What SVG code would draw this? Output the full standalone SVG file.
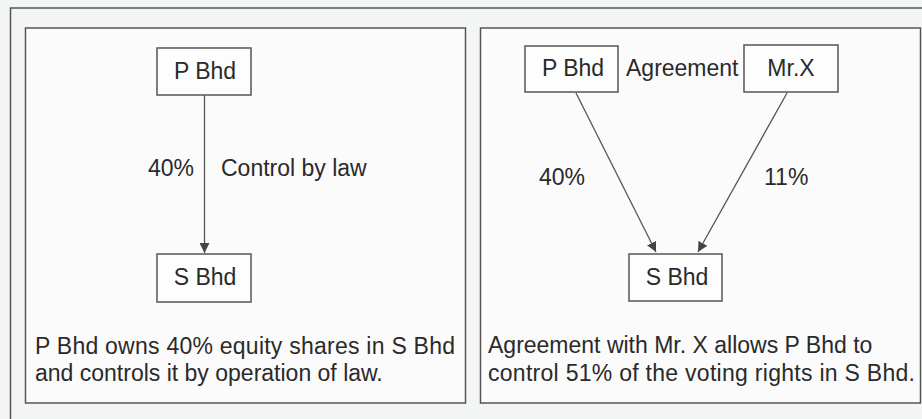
<svg xmlns="http://www.w3.org/2000/svg" width="922" height="419" viewBox="0 0 922 419">
<style>
.bg{fill:#f3f4f4}
.frame{fill:none;stroke:#555;stroke-width:1.5}
.panel{fill:#fbfbfb;stroke:#555;stroke-width:1.5}
.node{fill:#fdfdfd;stroke:#555;stroke-width:1.5}
.t{font-family:"Liberation Sans",Arial,sans-serif;font-size:23px;fill:#2a2a2a}
.c{text-anchor:middle}
.edge{stroke:#555;stroke-width:1.3;fill:none;marker-end:url(#ah)}
</style>
<defs>
<marker id="ah" viewBox="0 0 10 10" refX="10" refY="5" markerWidth="10" markerHeight="10" markerUnits="userSpaceOnUse" orient="auto">
<path d="M0,0 L10,5 L0,10 Z" fill="#444"/>
</marker>
</defs>
<rect class="bg" x="0" y="0" width="922" height="419"/>
<path class="frame" d="M10.5,419 V8 H922"/>
<rect class="panel" x="25.5" y="28" width="440" height="375"/>
<rect class="panel" x="480.5" y="28" width="440" height="375"/>

<g id="left-p">
<rect class="node" x="157" y="48" width="94" height="47"/>
<text class="t c" x="205" y="79">P Bhd</text>
</g>
<g id="left-s">
<rect class="node" x="157" y="254" width="94" height="48"/>
<text class="t c" x="205" y="285">S Bhd</text>
</g>
<g id="right-p">
<rect class="node" x="525" y="46" width="93" height="46"/>
<text class="t c" x="573" y="76">P Bhd</text>
</g>
<g id="right-x">
<rect class="node" x="744" y="45" width="94" height="47"/>
<text class="t c" x="791" y="76">Mr.X</text>
</g>
<g id="right-s">
<rect class="node" x="629" y="254" width="93" height="47"/>
<text class="t c" x="677" y="285">S Bhd</text>
</g>

<g id="connectors">
<line class="edge" x1="204.5" y1="95" x2="204.5" y2="253"/>
<line class="edge" x1="576" y1="93" x2="656" y2="252"/>
<line class="edge" x1="787" y1="93" x2="698" y2="252"/>
</g>

<g id="labels">
<text class="t" x="148" y="176">40%</text>
<text class="t" x="221" y="176">Control by law</text>
<text class="t" x="626" y="76">Agreement</text>
<text class="t" x="539" y="185">40%</text>
<text class="t" x="764" y="185">11%</text>
<text class="t" x="35" y="354" textLength="420">P Bhd owns 40% equity shares in S Bhd</text>
<text class="t" x="35" y="381">and controls it by operation of law.</text>
<text class="t" x="488" y="353">Agreement with Mr. X allows P Bhd to</text>
<text class="t" x="488" y="381" textLength="427">control 51% of the voting rights in S Bhd.</text>
</g>
</svg>
